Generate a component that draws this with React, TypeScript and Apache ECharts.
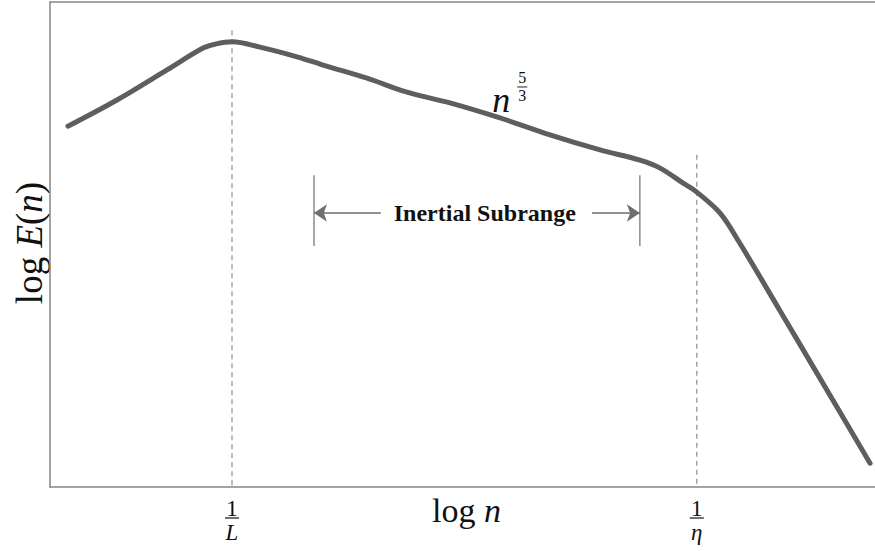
import React, { useEffect, useRef } from "react";
import * as echarts from "echarts";

// Energy spectrum curve (log n, log E(n)) in arbitrary units
const curveX = [2.18, 8.12, 14.18, 18.55, 20.0, 22.06, 25.45, 29.94, 33.09, 38.42, 43.27, 48.48, 54.55, 60.6, 66.67, 71.5, 73.9, 76.7, 78.4, 81.2, 83.6, 88.5, 93.3, 99.4];
const curveY = [74.4, 79.8, 86.0, 90.5, 91.3, 91.8, 90.7, 88.7, 87.0, 84.3, 81.4, 79.2, 76.1, 72.6, 69.5, 67.4, 65.8, 62.7, 60.8, 56.5, 50.3, 36.3, 22.5, 4.9];

// Characteristic scales 1/L and 1/η
const markerX = [22.06, 78.4];
const markerTop = [94.2, 68.5];
const markerDenoms = ["L", "η"];

// Inertial subrange bracket
const subrangeX = [32.0, 71.5];
const subrangeY = [49.7, 64.3];
const arrowY = 56.5;
const arrowInner = [40.1, 65.7];
const subrangeLabel = "Inertial Subrange";
const subrangeLabelX = 52.7;

// Slope label
const slopeLabelPos = [54.7, 79.8];
const slopeNum = "5";
const slopeDen = "3";

const xTitle = ["log ", "n"];
const yTitle = ["log ", "E", "(", "n", ")"];

const SERIF = "Liberation Serif";
const FRAME = "#858585";

const txt = (size: number, italic = false, bold = false) => ({
  fontFamily: SERIF,
  fontSize: size,
  fontStyle: italic ? "italic" : "normal",
  fontWeight: bold ? "bold" : "normal",
  fill: "#111",
});

export default function App() {
  const ref = useRef<HTMLDivElement>(null);
  useEffect(() => {
    if (!ref.current) return;
    const chart = echarts.init(ref.current, null, { renderer: "svg" });
    const option: any = {
      animation: false,
      backgroundColor: "#ffffff",
      grid: { left: 50, right: 0, top: 2, bottom: 64 },
      xAxis: [
        {
          type: "value",
          min: 0,
          max: 100,
          position: "bottom",
          axisLine: { show: true, lineStyle: { color: FRAME, width: 1.5 } },
          axisTick: { show: false },
          axisLabel: { show: false },
          splitLine: { show: false },
        },
        {
          type: "value",
          min: 0,
          max: 100,
          position: "top",
          axisLine: { show: true, lineStyle: { color: FRAME, width: 1.5 } },
          axisTick: { show: false },
          axisLabel: { show: false },
          splitLine: { show: false },
        },
      ],
      yAxis: {
        type: "value",
        min: 0,
        max: 100,
        axisLine: { show: true, lineStyle: { color: FRAME, width: 1.5 } },
        axisTick: { show: false },
        axisLabel: { show: false },
        splitLine: { show: false },
      },
      series: [
        ...markerX.map((mx, i) => ({
          type: "line",
          data: [
            [mx, markerTop[i]],
            [mx, 0],
          ],
          symbol: "none",
          silent: true,
          lineStyle: { color: "#8c8c8c", width: 1.2, type: [5, 4] },
          z: 1,
        })),
        ...subrangeX.map((sx) => ({
          type: "line",
          data: [
            [sx, subrangeY[0]],
            [sx, subrangeY[1]],
          ],
          symbol: "none",
          silent: true,
          lineStyle: { color: "#7a7a7a", width: 1.3 },
          z: 1,
        })),
        {
          type: "line",
          data: curveX.map((x, i) => [x, curveY[i]]),
          symbol: "none",
          smooth: 0.35,
          silent: true,
          lineStyle: { color: "#5e5e5e", width: 5, cap: "round", join: "round" },
          z: 3,
          markLine: {
            silent: true,
            symbol: ["none", "arrow"],
            symbolSize: 13,
            label: { show: false },
            lineStyle: { color: "#6e6e6e", width: 1.5, type: "solid" },
            data: [
              [{ coord: [arrowInner[0], arrowY] }, { coord: [subrangeX[0], arrowY] }],
              [{ coord: [arrowInner[1], arrowY] }, { coord: [subrangeX[1], arrowY] }],
            ],
          },
        },
      ],
    };
    chart.setOption(option);

    const px = (p: number[]) => chart.convertToPixel({ gridIndex: 0 }, p) as number[];
    const base = px([0, 0]);
    const right = px([100, 0]);
    const axisY = base[1];
    const graphics: any[] = [];

    markerX.forEach((mx, i) => {
      const x = px([mx, 0])[0];
      graphics.push({
        type: "text",
        x,
        y: axisY + 21,
        style: { text: "1", ...txt(23), align: "center", verticalAlign: "middle" },
      });
      graphics.push({
        type: "line",
        shape: { x1: x - 7, y1: axisY + 31, x2: x + 7, y2: axisY + 31 },
        style: { stroke: "#222", lineWidth: 1.3 },
      });
      graphics.push({
        type: "text",
        x,
        y: axisY + 45,
        style: { text: markerDenoms[i], ...txt(23, true), align: "center", verticalAlign: "middle" },
      });
    });

    // x axis title
    graphics.push({
      type: "text",
      x: (base[0] + right[0]) / 2 + 4,
      y: axisY + 23,
      style: {
        text: `{r|${xTitle[0]}}{i|${xTitle[1]}}`,
        align: "center",
        verticalAlign: "middle",
        rich: {
          r: txt(34),
          i: txt(34, true),
        },
      },
    });

    // y axis title
    graphics.push({
      type: "text",
      x: 29,
      y: 243,
      rotation: Math.PI / 2,
      style: {
        text: `{r|${yTitle[0]}}{i|${yTitle[1]}}{r|${yTitle[2]}}{i|${yTitle[3]}}{r|${yTitle[4]}}`,
        align: "center",
        verticalAlign: "middle",
        rich: {
          r: txt(37),
          i: txt(37, true),
        },
      },
    });

    // inertial subrange label
    const lbl = px([subrangeLabelX, arrowY]);
    graphics.push({
      type: "text",
      x: lbl[0],
      y: lbl[1],
      style: { text: subrangeLabel, ...txt(24, false, true), align: "center", verticalAlign: "middle" },
    });

    // slope label n^{5/3}
    const sl = px(slopeLabelPos);
    graphics.push({
      type: "text",
      x: sl[0],
      y: sl[1],
      style: { text: "n", ...txt(36, true), align: "center", verticalAlign: "middle" },
    });
    graphics.push({
      type: "text",
      x: sl[0] + 21,
      y: sl[1] - 22,
      style: { text: slopeNum, ...txt(16), align: "center", verticalAlign: "middle" },
    });
    graphics.push({
      type: "line",
      shape: { x1: sl[0] + 16, y1: sl[1] - 13, x2: sl[0] + 26, y2: sl[1] - 13 },
      style: { stroke: "#222", lineWidth: 1 },
    });
    graphics.push({
      type: "text",
      x: sl[0] + 21,
      y: sl[1] - 4,
      style: { text: slopeDen, ...txt(16), align: "center", verticalAlign: "middle" },
    });

    chart.setOption({ graphic: graphics });
    return () => chart.dispose();
  }, []);
  return (
    <div
      ref={ref}
      style={{ position: "fixed", left: 0, top: 0, width: 875, height: 551, background: "#fff" }}
    />
  );
}
